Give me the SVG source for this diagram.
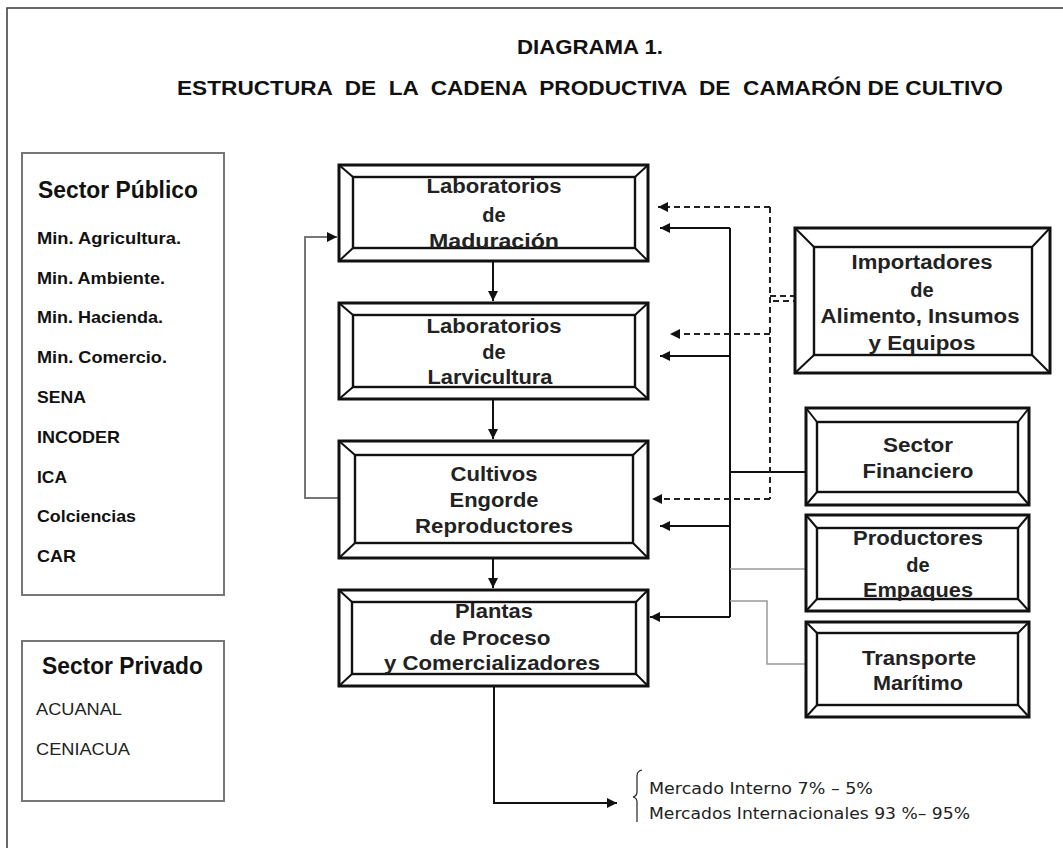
<svg xmlns="http://www.w3.org/2000/svg" width="1063" height="848" viewBox="0 0 1063 848">
<defs>
<style>
.frame{fill:none;stroke:#444;stroke-width:1.6}
.panel{fill:#fff;stroke:#777;stroke-width:2}
.bo{fill:#fff;stroke:#111;stroke-width:3}
.bi{fill:#fff;stroke:#111;stroke-width:2.4}
.bd{stroke:#111;stroke-width:2}
.t{font-family:"Liberation Sans",Arial,sans-serif;font-weight:bold;font-size:20px;fill:#222;text-anchor:middle}
.title{font-family:"Liberation Sans",Arial,sans-serif;font-weight:bold;font-size:21px;fill:#111;white-space:pre}
.ph{font-family:"Liberation Sans",Arial,sans-serif;font-weight:bold;font-size:24px;fill:#111}
.pi{font-family:"Liberation Sans",Arial,sans-serif;font-weight:bold;font-size:17px;fill:#111}
.pn{font-family:"Liberation Sans",Arial,sans-serif;font-size:17px;fill:#222}
.mk{font-family:"DejaVu Sans",Verdana,sans-serif;font-size:16.5px;fill:#222}
.s{fill:none;stroke:#111;stroke-width:2}
.g{fill:none;stroke:#777;stroke-width:2}
.lg{fill:none;stroke:#999;stroke-width:1.5}
.d{fill:none;stroke:#222;stroke-width:2;stroke-dasharray:6 4}
</style>
<marker id="ah" markerUnits="userSpaceOnUse" markerWidth="11" markerHeight="10" refX="10" refY="5" orient="auto">
<path d="M0,0 L10,5 L0,10 z" fill="#111"/>
</marker>
</defs>
<rect x="0" y="0" width="1063" height="848" fill="#fff"/>
<rect class="frame" x="7" y="8" width="1070" height="860"/>

<g id="title">
<text class="title" x="590" y="54" text-anchor="middle" textLength="146" lengthAdjust="spacingAndGlyphs">DIAGRAMA 1.</text>
<text class="title" x="177" y="95" textLength="826" lengthAdjust="spacingAndGlyphs">ESTRUCTURA  DE  LA  CADENA  PRODUCTIVA  DE  CAMARÓN DE CULTIVO</text>
</g>

<g id="sector-publico">
<rect class="panel" x="22" y="153" width="202" height="442"/>
<text class="ph" x="38" y="198" textLength="160" lengthAdjust="spacingAndGlyphs">Sector Público</text>
<text class="pi" x="37" y="244" textLength="144" lengthAdjust="spacingAndGlyphs">Min. Agricultura.</text>
<text class="pi" x="37" y="284" textLength="128" lengthAdjust="spacingAndGlyphs">Min. Ambiente.</text>
<text class="pi" x="37" y="323" textLength="126" lengthAdjust="spacingAndGlyphs">Min. Hacienda.</text>
<text class="pi" x="37" y="363" textLength="130" lengthAdjust="spacingAndGlyphs">Min. Comercio.</text>
<text class="pi" x="37" y="403" textLength="49" lengthAdjust="spacingAndGlyphs">SENA</text>
<text class="pi" x="37" y="443" textLength="83" lengthAdjust="spacingAndGlyphs">INCODER</text>
<text class="pi" x="37" y="483" textLength="30" lengthAdjust="spacingAndGlyphs">ICA</text>
<text class="pi" x="37" y="522" textLength="99" lengthAdjust="spacingAndGlyphs">Colciencias</text>
<text class="pi" x="37" y="562" textLength="39" lengthAdjust="spacingAndGlyphs">CAR</text>
</g>

<g id="sector-privado">
<rect class="panel" x="22" y="641" width="202" height="160"/>
<text class="ph" x="42" y="674" textLength="161" lengthAdjust="spacingAndGlyphs">Sector Privado</text>
<text class="pn" x="36" y="715" textLength="86" lengthAdjust="spacingAndGlyphs">ACUANAL</text>
<text class="pn" x="36" y="755" textLength="94" lengthAdjust="spacingAndGlyphs">CENIACUA</text>
</g>

<g id="connectors">
<path class="s" d="M493,261 V301" marker-end="url(#ah)"/>
<path class="s" d="M493,399 V439" marker-end="url(#ah)"/>
<path class="s" d="M493,558 V588" marker-end="url(#ah)"/>
<path class="g" d="M339,498 H305 V237 H337" marker-end="url(#ah)"/>
<path class="s" d="M730,228 V617"/>
<path class="s" d="M730,228 H660" marker-end="url(#ah)"/>
<path class="s" d="M730,356 H660" marker-end="url(#ah)"/>
<path class="s" d="M730,526 H660" marker-end="url(#ah)"/>
<path class="s" d="M730,617 H650" marker-end="url(#ah)"/>
<path class="s" d="M730,472 H817"/>
<path class="lg" d="M730,569 H806"/>
<path class="lg" d="M730,601 H767 V664 H806"/>
<path class="d" d="M770,207 V499"/>
<path class="d" d="M770,207 H658" marker-end="url(#ah)"/>
<path class="d" d="M770,334 H670" marker-end="url(#ah)"/>
<path class="d" d="M770,499 H652" marker-end="url(#ah)"/>
<path class="d" d="M770,296 H805"/>
<path class="d" d="M773,301 H797"/>
<path class="s" d="M494,686 V803 H617" marker-end="url(#ah)"/>
</g>

<g id="lab-maduracion">
<rect class="bo" x="339" y="165" width="309" height="96"/>
<rect class="bi" x="353" y="177" width="282" height="71"/>
<path class="bd" d="M339,165 L353,177 M648,165 L635,177 M339,261 L353,248 M648,261 L635,248"/>
<text class="t" x="494" y="193" textLength="135" lengthAdjust="spacingAndGlyphs">Laboratorios</text>
<text class="t" x="494" y="222">de</text>
<text class="t" x="494" y="248" textLength="130" lengthAdjust="spacingAndGlyphs">Maduración</text>
</g>

<g id="lab-larvicultura">
<rect class="bo" x="339" y="303" width="309" height="96"/>
<rect class="bi" x="353" y="315" width="282" height="72"/>
<path class="bd" d="M339,303 L353,315 M648,303 L635,315 M339,399 L353,387 M648,399 L635,387"/>
<text class="t" x="494" y="333" textLength="135" lengthAdjust="spacingAndGlyphs">Laboratorios</text>
<text class="t" x="494" y="359">de</text>
<text class="t" x="490" y="384" textLength="125" lengthAdjust="spacingAndGlyphs">Larvicultura</text>
</g>

<g id="cultivos">
<rect class="bo" x="339" y="441" width="309" height="117"/>
<rect class="bi" x="355" y="455" width="278" height="88"/>
<path class="bd" d="M339,441 L355,455 M648,441 L633,455 M339,558 L355,543 M648,558 L633,543"/>
<text class="t" x="494" y="481" textLength="87" lengthAdjust="spacingAndGlyphs">Cultivos</text>
<text class="t" x="494" y="507" textLength="89" lengthAdjust="spacingAndGlyphs">Engorde</text>
<text class="t" x="494" y="533" textLength="158" lengthAdjust="spacingAndGlyphs">Reproductores</text>
</g>

<g id="plantas">
<rect class="bo" x="339" y="590" width="309" height="96"/>
<rect class="bi" x="352" y="602" width="284" height="72"/>
<path class="bd" d="M339,590 L352,602 M648,590 L636,602 M339,686 L352,674 M648,686 L636,674"/>
<text class="t" x="494" y="618" textLength="78" lengthAdjust="spacingAndGlyphs">Plantas</text>
<text class="t" x="490" y="645" textLength="121" lengthAdjust="spacingAndGlyphs">de Proceso</text>
<text class="t" x="492" y="670" textLength="216" lengthAdjust="spacingAndGlyphs">y Comercializadores</text>
</g>

<g id="importadores">
<rect class="bo" x="795" y="228" width="255" height="145"/>
<rect class="bi" x="814" y="247" width="218" height="108"/>
<path class="bd" d="M795,228 L814,247 M1050,228 L1032,247 M795,373 L814,355 M1050,373 L1032,355"/>
<text class="t" x="922" y="269" textLength="141" lengthAdjust="spacingAndGlyphs">Importadores</text>
<text class="t" x="922" y="297">de</text>
<text class="t" x="920" y="323" textLength="199" lengthAdjust="spacingAndGlyphs">Alimento, Insumos</text>
<text class="t" x="922" y="350" textLength="107" lengthAdjust="spacingAndGlyphs">y Equipos</text>
</g>

<g id="financiero">
<rect class="bo" x="806" y="408" width="223" height="97"/>
<rect class="bi" x="817" y="422" width="201" height="70"/>
<path class="bd" d="M806,408 L817,422 M1029,408 L1018,422 M806,505 L817,492 M1029,505 L1018,492"/>
<text class="t" x="918" y="452" textLength="70" lengthAdjust="spacingAndGlyphs">Sector</text>
<text class="t" x="918" y="478" textLength="111" lengthAdjust="spacingAndGlyphs">Financiero</text>
</g>

<g id="empaques">
<rect class="bo" x="806" y="515" width="223" height="96"/>
<rect class="bi" x="817" y="528" width="201" height="71"/>
<path class="bd" d="M806,515 L817,528 M1029,515 L1018,528 M806,611 L817,599 M1029,611 L1018,599"/>
<text class="t" x="918" y="545" textLength="130" lengthAdjust="spacingAndGlyphs">Productores</text>
<text class="t" x="918" y="572">de</text>
<text class="t" x="918" y="597" textLength="110" lengthAdjust="spacingAndGlyphs">Empaques</text>
</g>

<g id="transporte">
<rect class="bo" x="806" y="622" width="223" height="95"/>
<rect class="bi" x="817" y="633" width="201" height="72"/>
<path class="bd" d="M806,622 L817,633 M1029,622 L1018,633 M806,717 L817,705 M1029,717 L1018,705"/>
<text class="t" x="919" y="665" textLength="114" lengthAdjust="spacingAndGlyphs">Transporte</text>
<text class="t" x="918" y="690" textLength="90" lengthAdjust="spacingAndGlyphs">Marítimo</text>
</g>

<g id="mercados">
<path d="M642,770 Q637,771 637,776 V792 Q637,796 633,797 Q637,798 637,802 V822" fill="none" stroke="#222" stroke-width="1.2"/>
<text class="mk" x="649" y="794" textLength="224" lengthAdjust="spacingAndGlyphs">Mercado Interno 7% – 5%</text>
<text class="mk" x="649" y="819" textLength="321" lengthAdjust="spacingAndGlyphs">Mercados Internacionales 93 %– 95%</text>
</g>
</svg>
